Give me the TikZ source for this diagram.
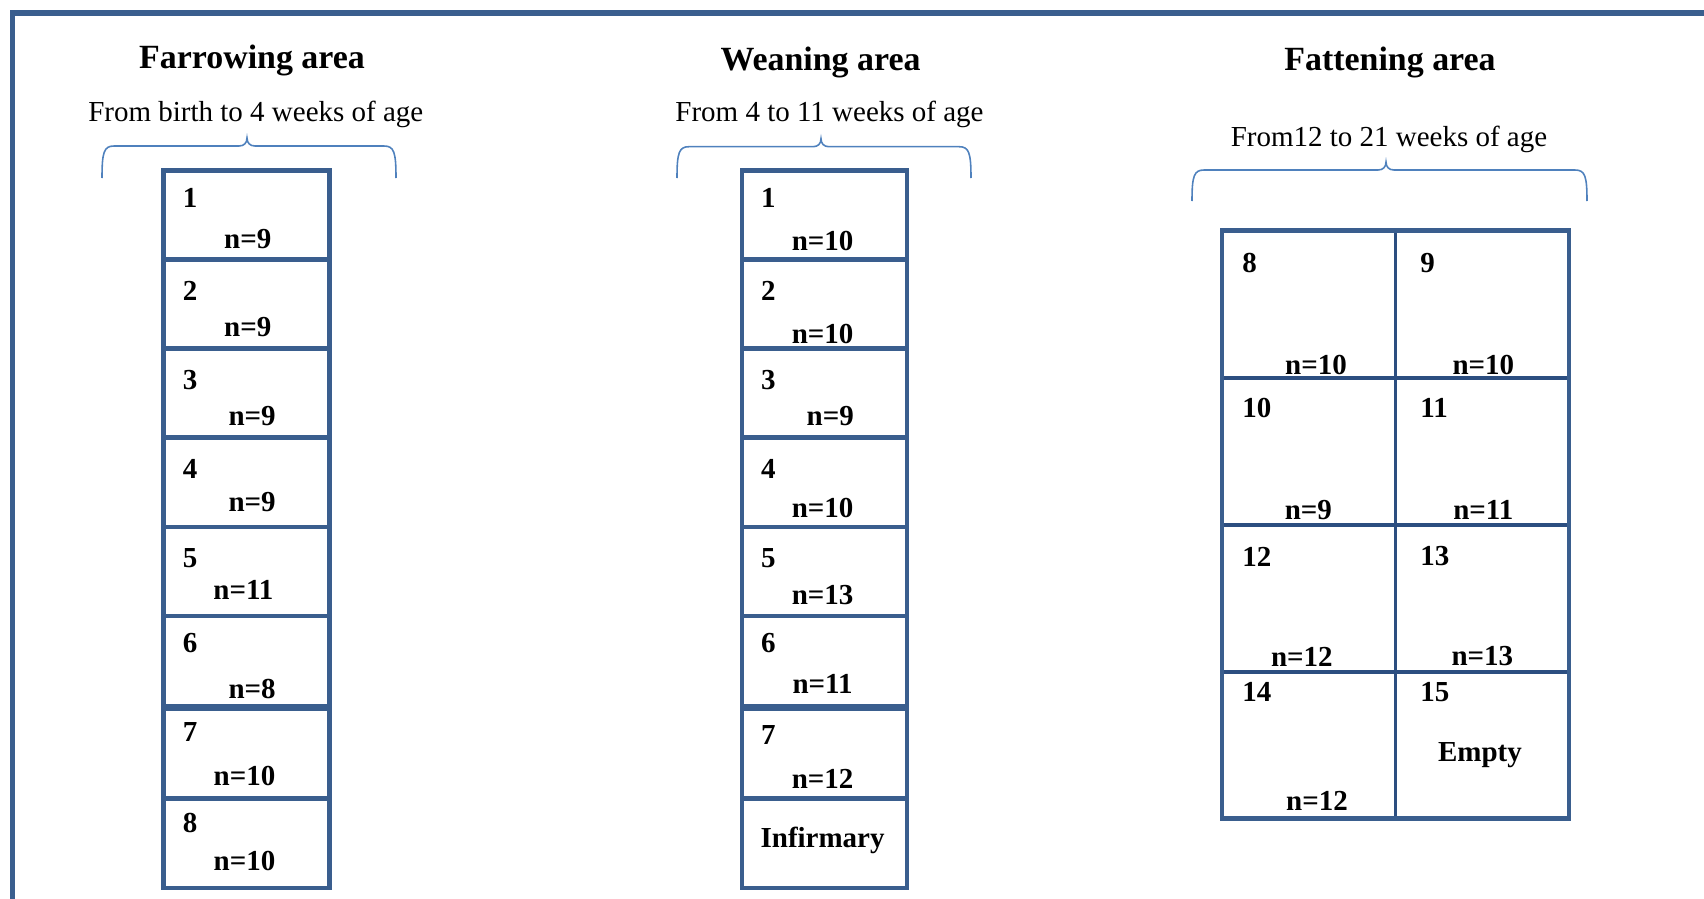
\documentclass[tikz,border=0pt]{standalone}
\usepackage{fontspec}
\setmainfont{Liberation Serif}
\usetikzlibrary{calc,positioning}
\usepackage{xcolor}

\definecolor{penblue}{RGB}{58,94,142}
\definecolor{gridblue}{RGB}{44,78,128}
\definecolor{braceblue}{RGB}{79,129,189}

\tikzset{
  areatitle/.style={font=\bfseries\fontsize{19.3}{22}\selectfont, anchor=base, inner sep=0pt},
  agetext/.style={font=\fontsize{16.5}{19}\selectfont, anchor=base, inner sep=0pt},
  pennum/.style={font=\bfseries\fontsize{16.5}{19}\selectfont, anchor=west, inner sep=0pt},
  pencount/.style={font=\bfseries\fontsize{16.5}{19}\selectfont, inner sep=0pt},
  penline/.style={draw=penblue, line width=2.8pt},
  gridline/.style={draw=gridblue, line width=2pt},
  braceline/.style={draw=braceblue, line width=0.9pt}
}

% brace: left x, right x, tip x, bar y, end y
\newcommand{\agebrace}[5]{%
  \draw[braceline] (#1,#5) .. controls (#1,#4+6) and (#1+2,#4) .. (#1+12,#4)
    -- (#3-8,#4) .. controls (#3-3,#4) and (#3,#4-3) .. (#3,#4-8)
    .. controls (#3,#4-3) and (#3+3,#4) .. (#3+8,#4)
    -- (#2-12,#4) .. controls (#2-2,#4) and (#2,#4+6) .. (#2,#5);}

\begin{document}
\begin{tikzpicture}[x=0.02cm, y=-0.02cm]
            \useasboundingbox (0,0) rectangle (1704,899);

            % Outer frame (left and top sides only)
            \draw[penline, line width=3pt] (12.5,910) -- (12.5,13) -- (1715,13);

            % Titles and ages
            \node[areatitle] (fartitle) at (252,68.5) {Farrowing area};
            \node[areatitle] (weantitle) at (820.5,70) {Weaning area};
            \node[areatitle] (fattitle) at (1390,70) {Fattening area};
            \node[agetext] (farage) at (255.8,121.7) {From birth to 4 weeks of age};
            \node[agetext] (weanage) at (829.5,121.7) {From 4 to 11 weeks of age};
            \node[agetext] (fatage) at (1389,146.7) {From12 to 21 weeks of age};

            % Braces under the ages
            \agebrace{102}{396}{247}{146}{178}
            \agebrace{677}{971}{821}{146.7}{178}
            \agebrace{1192}{1587}{1386}{170}{201}

            % Farrowing pens
            \draw[penline] (163.5,170.5) rectangle (329.5,888);
            \foreach \y in {259.7,348.8,437.9,527,616,798.7} {
                \draw[penline] (163.5,\y) -- (329.5,\y);
            }
            \draw[penline, line width=4pt] (163.5,707.5) -- (329.5,707.5);
            \foreach \num/\y in {1/197.8,2/291.2,3/380.3,4/469.4,5/558.6,6/643.3,7/732.4,8/822.6} {
                \node[pennum] (far\num) at (182.6,\y) {\num};
            }
            \foreach \num/\x/\y/\n in {1/247.8/239/9,2/247.8/327.1/9,3/252.1/416.2/9,4/252.1/502/9,
                5/243.4/590/11,6/252.1/689/8,7/244.5/775.9/10,8/244.5/860.7/10} {
                \node[pencount] (farn\num) at (\x,\y) {n=\n};
            }

            % Weaning pens
            \draw[penline] (742,170.5) rectangle (907,888);
            \foreach \y in {259.7,348.8,437.9,527,616,798.7} {
                \draw[penline] (742,\y) -- (907,\y);
            }
            \draw[penline, line width=4pt] (742,707.5) -- (907,707.5);
            \foreach \num/\y in {1/197.8,2/291.2,3/380.3,4/469.4,5/558.6,6/643.3,7/734.6} {
                \node[pennum] (wean\num) at (760.7,\y) {\num};
            }
            \foreach \num/\x/\y/\n in {1/822.6/241.2/10,2/822.6/333.6/10,3/830.2/416.2/9,4/822.6/507.5/10,
                5/822.6/595.5/13,6/822.6/683.5/11,7/822.6/779.2/12} {
                \node[pencount] (weann\num) at (\x,\y) {n=\n};
            }
            \node[pencount] (infirmary) at (822.6,840) {Infirmary};

            % Fattening pens: 2 x 4 grid
            \draw[gridline] (1395.5,230.8) -- (1395.5,818.8);
            \foreach \y in {377.8,524.8,671.8} {
                \draw[gridline] (1222,\y) -- (1569,\y);
            }
            \draw[penline] (1222,230.8) rectangle (1569,818.8);
            \foreach \num/\x/\y in {8/1242/263,9/1420/263,10/1242/407.5,11/1420/407.5,
                12/1242/556.4,13/1420/556.4,14/1242/692.2,15/1420/692.2} {
                \node[pennum] (fat\num) at (\x,\y) {\num};
            }
            \foreach \num/\x/\y/\n in {8/1316/365/10,9/1483.3/365/10,10/1308.4/509.7/9,11/1483.3/509.7/11,
                12/1301.9/656.4/12,13/1482.3/656.4/13,14/1317/801/12} {
                \node[pencount] (fatn\num) at (\x,\y) {n=\n};
            }
            \node[pencount] (empty) at (1480,755) {Empty};
\end{tikzpicture}
\end{document}
